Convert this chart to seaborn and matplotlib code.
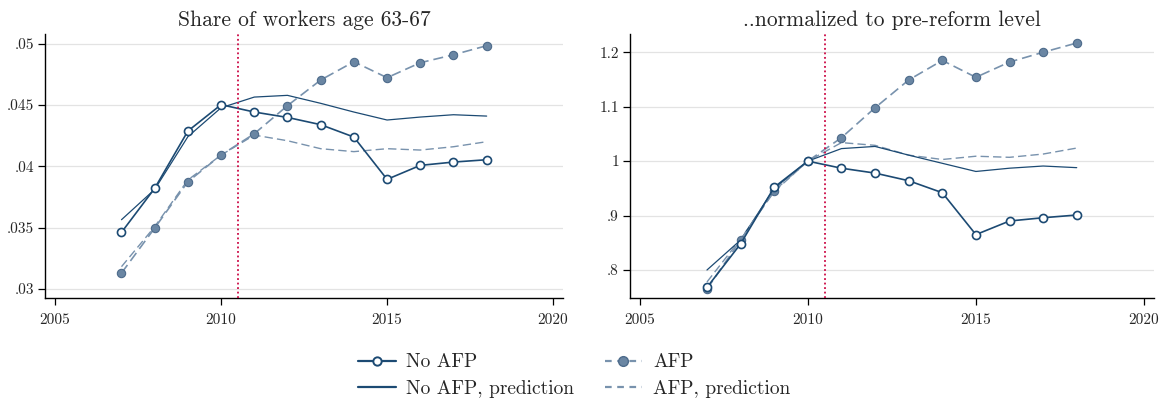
import matplotlib
matplotlib.use("Agg")
import matplotlib.pyplot as plt
import seaborn as sns
import numpy as np
import pandas as pd
from matplotlib.lines import Line2D

years = [2007, 2008, 2009, 2010, 2011, 2012, 2013, 2014, 2015, 2016, 2017, 2018]

# Left panel: share of workers age 63-67
share_noafp = [0.03462, 0.03821, 0.04288, 0.04503, 0.04443, 0.04399, 0.0434, 0.04239, 0.03894, 0.04008, 0.04035, 0.04054]
share_noafp_pred = [0.03565, 0.03812, 0.04242, 0.04478, 0.04565, 0.04579, 0.04514, 0.04443, 0.04378, 0.04402, 0.04421, 0.0441]
share_afp = [0.0313, 0.03497, 0.03875, 0.04092, 0.04266, 0.04495, 0.04704, 0.04853, 0.04723, 0.04845, 0.0491, 0.04984]
share_afp_pred = [0.03182, 0.03508, 0.03889, 0.04092, 0.04255, 0.04209, 0.04144, 0.0412, 0.04144, 0.04133, 0.0416, 0.04201]

# Right panel: normalized to pre-reform level
norm_noafp = [0.768, 0.848, 0.952, 1.0, 0.987, 0.978, 0.964, 0.942, 0.865, 0.890, 0.896, 0.901]
norm_noafp_pred = [0.800, 0.855, 0.950, 1.0, 1.023, 1.027, 1.011, 0.996, 0.981, 0.987, 0.991, 0.988]
norm_afp = [0.765, 0.855, 0.946, 1.0, 1.043, 1.098, 1.149, 1.185, 1.154, 1.182, 1.200, 1.217]
norm_afp_pred = [0.778, 0.857, 0.944, 1.0, 1.034, 1.029, 1.011, 1.003, 1.009, 1.007, 1.013, 1.024]

titles = ["Share of workers age 63-67", "..normalized to pre-reform level"]
left_yticks = [0.03, 0.035, 0.04, 0.045, 0.05]
left_yticklabels = [".03", ".035", ".04", ".045", ".05"]
right_yticks = [0.8, 0.9, 1.0, 1.1, 1.2]
right_yticklabels = [".8", ".9", "1", "1.1", "1.2"]
xticks = [2005, 2010, 2015, 2020]
reform_x = 2010.5
labels = ["No AFP", "No AFP, prediction", "AFP", "AFP, prediction"]

sns.set_style("white")
plt.rcParams['font.family'] = ['cmr10', 'DejaVu Serif']
plt.rcParams['axes.formatter.use_mathtext'] = True

NAVY = "#1c4a73"
AFP_LINE = "#7892ad"
AFP_FILL = "#6a86a3"
AFP_EDGE = "#4d6b8b"
RED = "#cc0a45"

fig = plt.figure(figsize=(11.63, 4.01), dpi=100)
ax1 = fig.add_axes([0.0391, 0.2561, 0.445, 0.6584])
ax2 = fig.add_axes([0.5417, 0.2561, 0.4506, 0.6584])

panels = [
    (ax1, share_noafp, share_noafp_pred, share_afp, share_afp_pred, left_yticks, left_yticklabels, (0.02924, 0.05077)),
    (ax2, norm_noafp, norm_noafp_pred, norm_afp, norm_afp_pred, right_yticks, right_yticklabels, (0.748, 1.233)),
]

for i, (ax, noafp, noafp_pred, afp, afp_pred, yt, ytl, ylim) in enumerate(panels):
    df = pd.DataFrame({"year": years, "noafp": noafp, "noafp_pred": noafp_pred,
                       "afp": afp, "afp_pred": afp_pred})
    sns.lineplot(data=df, x="year", y="afp_pred", ax=ax, color=AFP_LINE, lw=1.0,
                 linestyle=(0, (6, 3)), zorder=2)
    sns.lineplot(data=df, x="year", y="noafp_pred", ax=ax, color=NAVY, lw=0.9, zorder=2)
    sns.lineplot(data=df, x="year", y="afp", ax=ax, color=AFP_LINE, lw=1.2,
                 linestyle=(0, (6, 3)), marker="o", markersize=6,
                 markerfacecolor=AFP_FILL, markeredgecolor=AFP_EDGE, markeredgewidth=0.8, zorder=3)
    sns.lineplot(data=df, x="year", y="noafp", ax=ax, color=NAVY, lw=1.2,
                 marker="o", markersize=5.8, markerfacecolor="white",
                 markeredgecolor=NAVY, markeredgewidth=1.2, zorder=4)
    ax.axvline(reform_x, color=RED, lw=1.3, linestyle=(0, (1, 1.5)), zorder=5)
    ax.set_xlim(2004.71, 2020.3)
    ax.set_ylim(*ylim)
    ax.set_xticks(xticks)
    ax.set_xticklabels([str(t) for t in xticks])
    ax.set_yticks(yt)
    ax.set_yticklabels(ytl)
    ax.set_xlabel("")
    ax.set_ylabel("")
    ax.grid(axis="y", color="#e3e3e3", lw=0.9)
    ax.grid(axis="x", visible=False)
    ax.set_axisbelow(True)
    for s in ["top", "right"]:
        ax.spines[s].set_visible(False)
    for s in ["left", "bottom"]:
        ax.spines[s].set_color("black")
        ax.spines[s].set_linewidth(1.0)
    ax.tick_params(axis="both", direction="out", length=5, width=0.9, color="black",
                   labelsize=11, pad=3, left=True, bottom=True)
    ax.tick_params(axis="x", pad=6)
    ax.set_title(titles[i], fontsize=15.5, pad=6)
    if ax.get_legend():
        ax.get_legend().remove()

handles = [
    Line2D([], [], color=NAVY, lw=1.6, marker="o", markersize=6, markerfacecolor="white",
           markeredgecolor=NAVY, markeredgewidth=1.4),
    Line2D([], [], color=NAVY, lw=1.6),
    Line2D([], [], color=AFP_LINE, lw=1.6, linestyle=(0, (3, 2.5)), marker="o", markersize=7,
           markerfacecolor=AFP_FILL, markeredgecolor=AFP_EDGE),
    Line2D([], [], color=AFP_LINE, lw=1.6, linestyle=(0, (3, 2.5))),
]
fig.legend(handles, labels, ncol=2, loc="center", bbox_to_anchor=(0.4936, 0.0636),
           frameon=False, fontsize=14, handlelength=1.95, columnspacing=1.55,
           labelspacing=0.42, handletextpad=0.55)

fig.savefig("out.png", dpi=100)
